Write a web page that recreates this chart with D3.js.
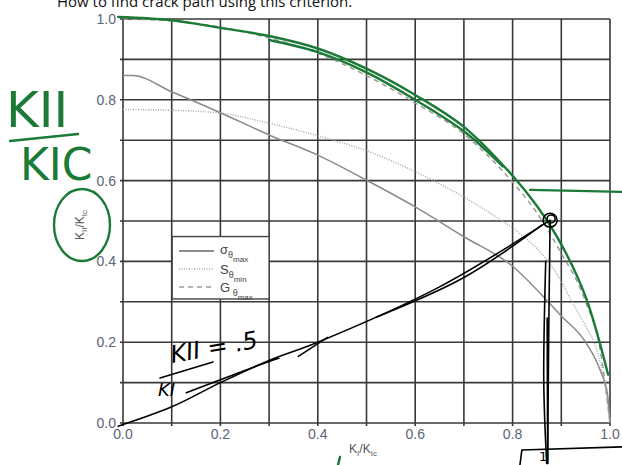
<!DOCTYPE html>
<html>
<head>
<meta charset="utf-8">
<style>
    body { margin: 0; background: #fff; }
    .grid { stroke: #383838; stroke-width: 1.6px; fill: none; }
    .ticklabel {
        font-family: 'Liberation Sans', Arial, sans-serif;
        font-size: 14px;
        fill: #5b6477;
    }
    .axistitle {
        font-family: 'Liberation Sans', Arial, sans-serif;
        font-size: 12px;
        fill: #555;
    }
    .legend-text {
        font-family: 'Liberation Sans', Arial, sans-serif;
        fill: #444;
    }
    .title {
        font-family: 'Open Sans', 'Liberation Sans', sans-serif;
        font-size: 15px;
        fill: #111;
    }
    .curve { fill: none; stroke-width: 1.5px; }
    .green { fill: none; stroke: #1b7a36; stroke-width: 2.4px; stroke-linecap: round; stroke-linejoin: round; }
    .ink { fill: none; stroke: #000; stroke-width: 1.6px; stroke-linecap: round; stroke-linejoin: round; }
    .hand { font-family: 'DejaVu Sans', sans-serif; }
</style>
</head>
<body>
<svg id="chart"></svg>
<script src="https://d3js.org/d3.v7.min.js"></script>
<script>
    // tick labels and grid positions
    var tickVals = [0.0, 0.2, 0.4, 0.6, 0.8, 1.0];
    var gridVals = [0.0, 0.1, 0.2, 0.3, 0.4, 0.5, 0.6, 0.7, 0.8, 0.9, 1.0];

    // sigma_theta max (solid)
    var sigmaX = [0, 0.02, 0.1, 0.2, 0.3, 0.4, 0.5, 0.6, 0.7, 0.8, 0.87, 0.9, 0.95, 0.98, 0.995, 1.0];
    var sigmaY = [0.86, 0.86, 0.82, 0.768, 0.713, 0.663, 0.601, 0.535, 0.461, 0.388, 0.304, 0.265, 0.2, 0.13, 0.07, 0.0];
    // S_theta min (dotted)
    var sminX = [0, 0.1, 0.2, 0.3, 0.4, 0.5, 0.6, 0.7, 0.77, 0.8, 0.9, 0.92, 0.95, 0.973, 0.99, 1.0];
    var sminY = [0.776, 0.774, 0.767, 0.742, 0.711, 0.674, 0.622, 0.559, 0.507, 0.483, 0.35, 0.304, 0.24, 0.18, 0.09, 0.0];
    // G_theta max (dashed)
    var gX = [0, 0.1, 0.2, 0.3, 0.4, 0.5, 0.6, 0.7, 0.8, 0.85, 0.9, 0.95, 0.98, 1.0];
    var gY = [1.0, 0.995, 0.98, 0.953, 0.915, 0.86, 0.792, 0.715, 0.596, 0.52, 0.42, 0.3, 0.18, 0.0];

    var legendNames = [['\u03c3', '\u03b8', 'max'], ['S', '\u03b8', 'min'], ['G', ' \u03b8', 'max']];
    var legendStyles = [
        {stroke: '#8a8a8a', dash: null},
        {stroke: '#a8a8a8', dash: '1,1.5'},
        {stroke: '#9a9a9a', dash: '5,4'}
    ];

    // hand-drawn annotations (data units)
    var greenArcX = [-0.01, 0.1, 0.2, 0.3, 0.4, 0.5, 0.6, 0.7, 0.8, 0.85, 0.9, 0.95, 0.996];
    var greenArcY = [1.005, 0.997, 0.978, 0.958, 0.927, 0.877, 0.812, 0.733, 0.612, 0.537, 0.442, 0.312, 0.12];
    var greenArc2X = [0.3, 0.4, 0.5, 0.6, 0.7, 0.78];
    var greenArc2Y = [0.948, 0.918, 0.868, 0.8, 0.722, 0.635];
    var greenHorizX = [0.836, 1.03];
    var greenHorizY = [0.577, 0.572];
    var inkRayX = [-0.01, 0.1, 0.2, 0.3, 0.4, 0.65, 0.877];
    var inkRayY = [-0.008, 0.04, 0.1, 0.155, 0.2, 0.337, 0.502];
    var inkRay2X = [0.13, 0.3, 0.32];
    var inkRay2Y = [0.075, 0.152, 0.16];
    var inkRay3X = [0.52, 0.7, 0.86];
    var inkRay3Y = [0.262, 0.36, 0.49];
    var inkDropX = [0.877, 0.874, 0.872];
    var inkDropY = [0.5, 0.2, -0.1];
    var inkDrop2X = [0.868, 0.864, 0.87];
    var inkDrop2Y = [0.4, 0.1, -0.1];
    var inkThickX = [0.871, 0.872];
    var inkThickY = [0.26, -0.1];
    var inkBracketX = [0.815, 0.819, 1.03];
    var inkBracketY = [-0.104, -0.067, -0.059];

    var width = 622;
    var height = 465;

    var chart = d3.select('#chart')
        .attr('width', width)
        .attr('height', height);

    var x = d3.scaleLinear().domain([0, 1]).range([123, 610]);
    var y = d3.scaleLinear().domain([0, 1]).range([423, 19]);

    var line = d3.line()
        .x(function(d){ return x(d[0]); })
        .y(function(d){ return y(d[1]); });
    var smooth = d3.line().curve(d3.curveMonotoneX)
        .x(function(d){ return x(d[0]); })
        .y(function(d){ return y(d[1]); });
    var hand = d3.line().curve(d3.curveCatmullRom)
        .x(function(d){ return x(d[0]); })
        .y(function(d){ return y(d[1]); });

    function pts(xs, ys) {
        return xs.map(function(v, i){ return [v, ys[i]]; });
    }

    // title (cut off at the top, as in the scan)
    chart.append('text').attr('class', 'title')
        .attr('x', 57).attr('y', 7)
        .text('How to find crack path using this criterion.');

    // -----------------------------------
    // Draw the grid
    gridVals.forEach(function(v) {
        chart.append('line').attr('class', 'grid')
            .attr('x1', x(v)).attr('x2', x(v))
            .attr('y1', y(1)).attr('y2', y(0) + 3);
        chart.append('line').attr('class', 'grid')
            .attr('x1', x(0) - 3).attr('x2', x(1))
            .attr('y1', y(v)).attr('y2', y(v));
    });

    // tick labels
    tickVals.forEach(function(v) {
        chart.append('text').attr('class', 'ticklabel')
            .attr('x', x(v)).attr('y', y(0) + 16)
            .attr('text-anchor', 'middle')
            .text(v.toFixed(1));
        chart.append('text').attr('class', 'ticklabel')
            .attr('x', x(0) - 7).attr('y', y(v) + 5)
            .attr('text-anchor', 'end')
            .text(v.toFixed(1));
    });

    // axis titles
    var xt = chart.append('text').attr('class', 'axistitle')
        .attr('x', 363).attr('y', 453).attr('text-anchor', 'middle');
    xt.append('tspan').text('K');
    xt.append('tspan').attr('font-size', '8px').attr('dy', 3).text('I');
    xt.append('tspan').attr('dy', -3).text('/K');
    xt.append('tspan').attr('font-size', '8px').attr('dy', 3).text('Ic');

    var yt = chart.append('text').attr('class', 'axistitle')
        .attr('transform', 'translate(84,225) rotate(-90)')
        .attr('text-anchor', 'middle');
    yt.append('tspan').text('K');
    yt.append('tspan').attr('font-size', '8px').attr('dy', 3).text('II');
    yt.append('tspan').attr('dy', -3).text('/K');
    yt.append('tspan').attr('font-size', '8px').attr('dy', 3).text('Ic');

    // -----------------------------------
    // curves
    chart.append('path').datum(pts(sminX, sminY))
        .attr('class', 'curve')
        .attr('stroke', legendStyles[1].stroke)
        .attr('stroke-dasharray', legendStyles[1].dash)
        .attr('d', smooth);
    chart.append('path').datum(pts(sigmaX, sigmaY))
        .attr('class', 'curve')
        .attr('stroke', legendStyles[0].stroke)
        .attr('d', smooth);
    chart.append('path').datum(pts(gX, gY))
        .attr('class', 'curve')
        .attr('stroke', legendStyles[2].stroke)
        .attr('stroke-dasharray', legendStyles[2].dash)
        .attr('d', smooth);

    // legend
    var lg = chart.append('g');
    lg.append('rect')
        .attr('x', x(0.101)).attr('y', y(0.4615))
        .attr('width', x(0.3) - x(0.101)).attr('height', y(0.307) - y(0.4615))
        .attr('fill', '#fff').attr('stroke', '#444').attr('stroke-width', 1.4);
    legendNames.forEach(function(n, i) {
        var ry = 251 + i * 18;
        lg.append('line')
            .attr('x1', 179).attr('x2', 214)
            .attr('y1', ry).attr('y2', ry)
            .attr('stroke', i == 0 ? '#666' : legendStyles[i].stroke)
            .attr('stroke-width', 1.5)
            .attr('stroke-dasharray', legendStyles[i].dash);
        var t = lg.append('text').attr('class', 'legend-text')
            .attr('x', 220).attr('y', ry + (i == 0 ? 3 : 5))
            .attr('font-size', '13px');
        t.append('tspan').text(n[0]);
        t.append('tspan').attr('font-size', '9px').attr('dy', 4)
            .attr('xml:space', 'preserve').text(n[1]);
        t.append('tspan').attr('font-size', '8px').attr('dy', 4).text(n[2]);
    });

    // -----------------------------------
    // hand annotations, green
    var ann = chart.append('g');
    ann.append('path').datum(pts(greenArcX, greenArcY)).attr('class', 'green').attr('d', hand);
    ann.append('path').datum(pts(greenArc2X, greenArc2Y)).attr('class', 'green')
        .attr('stroke-width', 1.8).attr('d', hand);
    ann.append('path').datum(pts(greenHorizX, greenHorizY)).attr('class', 'green').attr('d', line);
    ann.append('ellipse').attr('class', 'green')
        .attr('cx', 82).attr('cy', 225).attr('rx', 28).attr('ry', 36);
    ann.append('text').attr('class', 'hand')
        .attr('x', 6).attr('y', 127).attr('font-size', '50px')
        .attr('fill', '#1b7a36').text('KII');
    ann.append('line').attr('class', 'green')
        .attr('x1', 10).attr('y1', 141).attr('x2', 78).attr('y2', 134);
    ann.append('text').attr('class', 'hand')
        .attr('x', 20).attr('y', 180).attr('font-size', '44px')
        .attr('fill', '#1b7a36').text('KIC');
    ann.append('line').attr('class', 'green')
        .attr('x1', 340).attr('y1', 457).attr('x2', 338).attr('y2', 465);

    // hand annotations, black
    ann.append('path').datum(pts(inkRayX, inkRayY)).attr('class', 'ink').attr('d', hand);
    ann.append('path').datum(pts(inkRay2X, inkRay2Y)).attr('class', 'ink').attr('stroke-width', 1.1).attr('d', hand);
    ann.append('path').datum(pts(inkRay3X, inkRay3Y)).attr('class', 'ink').attr('stroke-width', 1.1).attr('d', hand);
    ann.append('path').datum([[0.36, 0.165], [0.42, 0.212]]).attr('class', 'ink').attr('d', line);
    ann.append('path').datum(pts(inkDropX, inkDropY)).attr('class', 'ink').attr('stroke-width', 2).attr('d', hand);
    ann.append('path').datum(pts(inkDrop2X, inkDrop2Y)).attr('class', 'ink').attr('stroke-width', 2).attr('d', hand);
    ann.append('path').datum(pts(inkThickX, inkThickY)).attr('class', 'ink')
        .attr('stroke-width', 5).attr('d', line);
    ann.append('circle').attr('class', 'ink')
        .attr('cx', x(0.877)).attr('cy', y(0.502)).attr('r', 7);
    ann.append('circle').attr('class', 'ink')
        .attr('cx', x(0.879)).attr('cy', y(0.505)).attr('r', 4);
    ann.append('path').datum(pts(inkBracketX, inkBracketY)).attr('class', 'ink').attr('d', line);
    ann.append('text').attr('class', 'hand')
        .attr('x', 539).attr('y', 461).attr('font-size', '13px').text('1');

    // KII/KI = .5
    ann.append('text').attr('class', 'hand')
        .attr('transform', 'translate(172,363) rotate(-10)')
        .attr('font-size', '24px').attr('font-style', 'italic').text('KII = .5');
    ann.append('line').attr('class', 'ink')
        .attr('x1', 160).attr('y1', 378).attr('x2', 213).attr('y2', 362);
    ann.append('text').attr('class', 'hand')
        .attr('x', 158).attr('y', 396).attr('font-size', '18px').attr('font-style', 'italic').text('KI');
</script>
</body>
</html>
